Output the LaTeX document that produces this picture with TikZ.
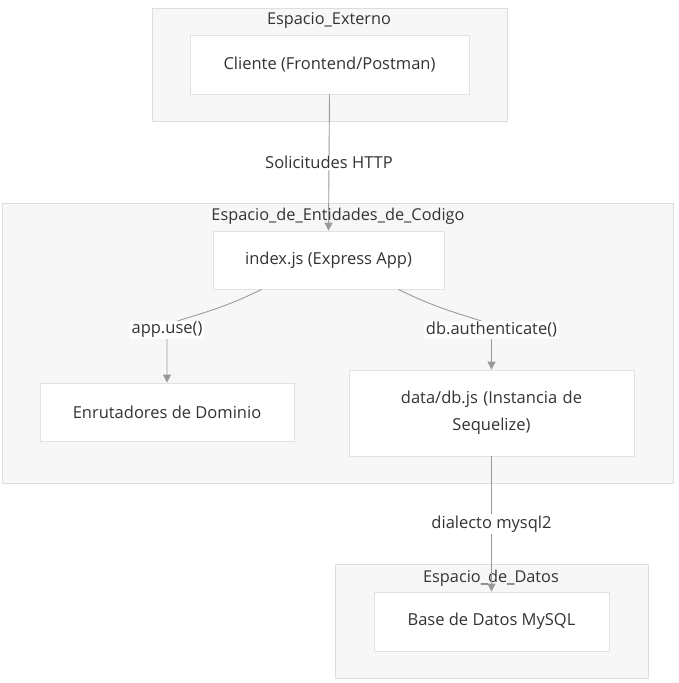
\documentclass[tikz,border=0pt]{standalone}
\usepackage{fontspec}
\setmainfont{Open Sans}
\usetikzlibrary{arrows.meta}

\definecolor{grpfill}{HTML}{F7F7F7}
\definecolor{grpline}{HTML}{DDDDDD}
\definecolor{boxline}{HTML}{E2E2E2}
\definecolor{linegray}{HTML}{9A9A9A}
\definecolor{txtgray}{HTML}{333333}

\begin{document}
\begin{tikzpicture}[x=1pt, y=-1pt,
    grupo/.style = {draw=grpline, fill=grpfill, line width=0.8pt},
    titulo/.style = {text=txtgray, font=\fontsize{16.3}{19}\selectfont, inner sep=1pt},
    caja/.style = {draw=boxline, fill=white, line width=0.8pt, text=txtgray,
        font=\fontsize{16.5}{27}\selectfont, align=center, inner sep=0pt},
    flecha/.style = {draw=linegray, line width=0.9pt,
        -{Triangle[length=8pt, width=8pt]}},
    etiqueta/.style = {fill=white, text=txtgray, font=\fontsize{16.5}{19}\selectfont, inner sep=1.5pt}]
    \path[use as bounding box] (0,0) rectangle (678,683);

    % grupos
    \path[grupo] (152,8) rectangle (507,121);
    \path[grupo] (2,203) rectangle (673,483);
    \path[grupo] (335,564) rectangle (648,678);
    \node[titulo] (tExterno) at (329,20) {Espacio\_Externo};
    \node[titulo] (tCodigo) at (338,216) {Espacio\_de\_Entidades\_de\_Codigo};
    \node[titulo] (tDatos) at (491,578) {Espacio\_de\_Datos};

    % nodos
    \node[caja, minimum width=279, minimum height=59] (cliente) at (329.5,64.5) {Cliente (Frontend/Postman)};
    \node[caja, minimum width=231, minimum height=58] (index) at (328.5,260) {index.js (Express App)};
    \node[caja, minimum width=254, minimum height=58] (routers) at (167,412) {Enrutadores de Dominio};
    \node[caja, minimum width=285, minimum height=86, text width=270] (db) at (491.5,413) {data/db.js (Instancia de\\Sequelize)};
    \node[caja, minimum width=235, minimum height=59] (mysql) at (491.5,621.5) {Base de Datos MySQL};

    % conexiones
    \draw[flecha] (cliente.south) -- node[etiqueta] (lHttp) {Solicitudes HTTP} (index.north);
    \draw[flecha] ([xshift=49pt]index.south west) .. controls (200,320) and (167,318) ..
        node[pos=1, etiqueta] (lUse) {app.use()} (167,330) -- (routers.north);
    \draw[flecha] ([xshift=-46pt]index.south east) .. controls (460,320) and (491,318) ..
        node[pos=1, etiqueta] (lAuth) {db.authenticate()} (491.5,330) -- (db.north);
    \draw[flecha] (db.south) -- node[etiqueta] (lDialecto) {dialecto mysql2} (mysql.north);
\end{tikzpicture}
\end{document}
